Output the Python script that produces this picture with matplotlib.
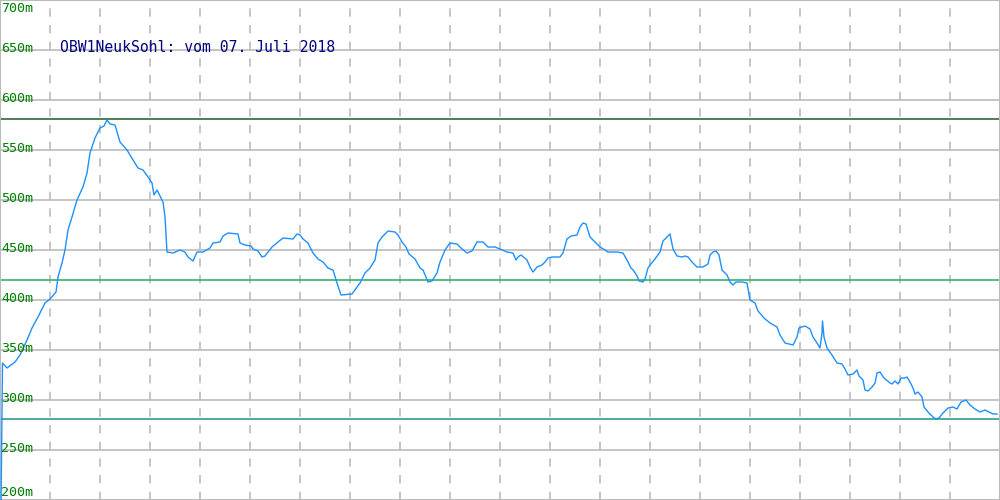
import matplotlib
matplotlib.use("Agg")
import matplotlib.pyplot as plt

# profile sample positions (px along the route) and altitude in metres
pos = [1, 2.5, 7, 15, 20, 27, 32, 38, 45, 50, 56, 58, 62, 65, 68, 72, 77, 83, 87, 90,
       95, 100, 104, 107, 110, 115, 120, 127, 133, 138, 143, 148, 152, 154, 157, 163, 165, 167,
       173, 180, 185, 188, 193, 197, 203, 210, 213, 220, 223, 228, 238, 240, 245, 251, 253,
       258, 262, 265, 272, 278, 283, 293, 297, 300, 303, 308, 313, 318, 323, 328,
       333, 337, 341, 352, 357, 360, 365, 370, 375, 378, 382, 388, 395, 398, 402, 406, 409,
       415, 420, 423, 428, 432, 437, 440, 445, 450, 457, 462, 467, 472, 477, 483, 488,
       495, 500, 507, 513, 516, 518, 521, 527, 530, 533, 537, 542, 545, 548, 552, 560, 563,
       567, 571, 577, 580, 583, 586, 590, 595, 600, 605, 608, 617, 623, 627, 631, 634, 637,
       639, 643, 645, 648, 650, 655, 660, 663, 667, 670, 673, 677, 682, 685, 688, 692, 697,
       703, 708, 710, 713, 716, 719, 722, 727, 730, 733, 736, 742, 747, 750, 755, 758, 764,
       770, 777, 780, 785, 793, 797, 799, 805, 810, 813, 817, 820, 822, 822.5, 824, 827, 832,
       837, 842, 845, 848, 853, 857, 859, 863, 865, 868, 872, 875, 877, 880, 884, 890, 892,
       895, 898, 901, 905, 907, 910, 913, 915, 918, 922, 924, 928, 933, 936, 939, 943, 948,
       953, 957, 961, 966, 970, 975, 980, 985, 989, 993, 997]
alt = [190, 337, 332, 338, 345, 360, 372, 383, 397, 401, 408, 423, 437, 450, 470, 483, 500, 513, 527, 547,
       562, 572, 574, 580, 576, 575, 558, 550, 540, 532, 530, 523, 517, 505, 510, 498, 483, 448,
       447, 450, 448, 443, 439, 448, 448, 452, 457, 458, 464, 467, 466, 457, 455, 454, 451,
       449, 443, 444, 453, 458, 462, 461, 466, 465, 461, 457, 447, 441, 438, 432,
       430, 417, 405, 406, 413, 417, 427, 432, 440, 457, 463, 469, 468, 465, 458, 453, 446,
       441, 432, 430, 418, 419, 427, 438, 450, 457, 456, 451, 447, 449, 458, 458, 453,
       453, 451, 448, 447, 440, 443, 445, 440, 433, 428, 433, 435, 438, 442, 443, 443, 447,
       461, 464, 465, 473, 477, 476, 463, 458, 453, 450, 448, 448, 447, 440, 432, 429, 424,
       419, 418, 421, 432, 435, 441, 448, 459, 463, 466, 451, 444, 443, 444, 443, 438, 433,
       433, 436, 445, 448, 449, 445, 430, 425, 418, 415, 418, 418, 417, 400, 397, 389, 382,
       377, 373, 365, 357, 355, 363, 372, 374, 371, 363, 357, 352, 367, 379, 363, 352, 345,
       337, 336, 331, 325, 326, 330, 324, 320, 310, 309, 313, 317, 327, 328, 322, 317, 316,
       319, 316, 322, 322, 323, 318, 312, 306, 308, 303, 293, 288, 283, 281, 282, 287, 292,
       293, 291, 298, 300, 295, 291, 288, 290, 288, 286, 286]

alt_max = 581
alt_mean = 420
alt_min = 281
y_ticks = [200, 250, 300, 350, 400, 450, 500, 550, 600, 650, 700]
title = "OBW1NeukSohl: vom 07. Juli 2018"

fig = plt.figure(figsize=(10, 5), dpi=100)
ax = fig.add_axes([0, 0, 1, 1])
ax.set_xlim(0, 1000)
ax.set_ylim(200, 700)

for v in y_ticks[1:-1]:
    ax.axhline(v, color='#bbbbbb', lw=1.2, zorder=1)
for xv in range(50, 1000, 50):
    ax.axvline(xv, color='#bbbbbb', lw=1.2, ls=(0, (5, 5)), zorder=1)

ax.axhline(alt_max, color='#336633', lw=1.2, zorder=2)
ax.axhline(alt_mean, color='#33b366', lw=1.2, zorder=2)
ax.axhline(alt_min, color='#2aa08e', lw=1.2, zorder=2)

ax.plot(pos, alt, color='#1e90ff', lw=1.0, zorder=3)

for v in y_ticks:
    if v == y_ticks[-1]:
        yy, va = 698, 'top'
    elif v == y_ticks[0]:
        yy, va = 201, 'bottom'
    else:
        yy, va = v + 2, 'center'
    ax.text(1, yy, f"{v}m", color='#008000', fontsize=9.6, family='DejaVu Sans Mono',
            va=va, ha='left', zorder=4)

ax.text(60, 652, title, color='#000080', fontsize=10.6, family='DejaVu Sans Mono',
        va='center', ha='left', zorder=4)

ax.set_xticks([])
ax.set_yticks([])
for s in ax.spines.values():
    s.set_color('#bbbbbb')
    s.set_linewidth(1.5)

fig.savefig('out.png', dpi=100)
